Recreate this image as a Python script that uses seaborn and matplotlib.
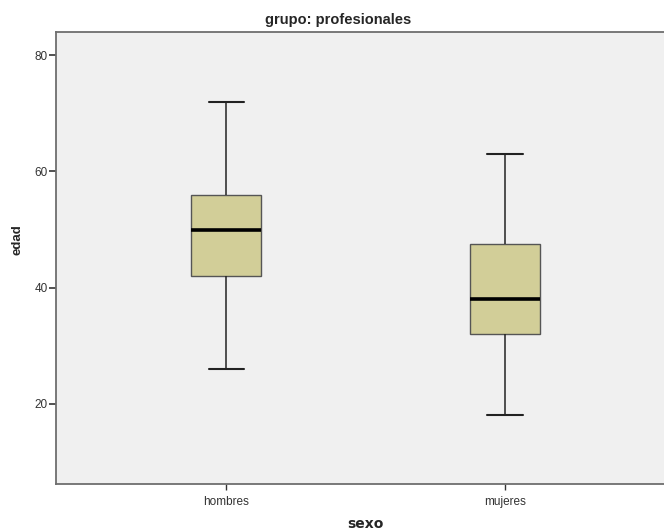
import matplotlib
matplotlib.use("Agg")
import matplotlib.pyplot as plt
import seaborn as sns
import pandas as pd

# Age values per sex (min, Q1, median, Q3, max) for the "profesionales" group
categorias = ["hombres", "mujeres"]
edad_hombres = [26, 42, 50, 56, 72]
edad_mujeres = [18, 32, 38, 47.5, 63]
ticks_y = [20, 40, 60, 80]

df = pd.DataFrame({
    "sexo": [categorias[0]] * len(edad_hombres) + [categorias[1]] * len(edad_mujeres),
    "edad": edad_hombres + edad_mujeres,
})

sns.set_style("white")
plt.rcParams["font.family"] = ["Liberation Sans", "DejaVu Sans"]

fig = plt.figure(figsize=(6.64, 5.31), dpi=100)
ax = fig.add_axes([56 / 664, 1 - 484 / 531, 1 - 56 / 664 + 0.002, (484 - 32) / 531])
ax.set_facecolor("#F0F0F0")

sns.boxplot(
    data=df, x="sexo", y="edad", order=categorias, ax=ax,
    width=0.252, color="#D2CE98", saturation=1, whis=1.5,
    linewidth=1.0, linecolor="#333333",
    boxprops=dict(edgecolor="#555555", linewidth=1.0),
    medianprops=dict(color="black", linewidth=2.6),
    whiskerprops=dict(color="#222222", linewidth=1.1),
    capprops=dict(color="#222222", linewidth=1.5),
)

ax.set_xlim(-0.6115, 1.5755)
ax.set_ylim(6.2, 84)
ax.set_yticks(ticks_y)

for side in ["left", "bottom", "top"]:
    ax.spines[side].set_color("#6E6E6E")
    ax.spines[side].set_linewidth(1.3)
ax.spines["right"].set_visible(False)

ax.tick_params(axis="y", direction="out", length=5, width=1.2, color="#333333",
               labelsize=8.5, labelcolor="#333333", pad=1, left=True)
ax.tick_params(axis="x", direction="out", length=4, width=1.0, color="#333333",
               labelsize=8.5, labelcolor="#333333", pad=4.5, bottom=True)

ax.set_xlabel("sexo", fontsize=10, fontweight="bold", family=["DejaVu Sans"])
ax.xaxis.set_label_coords((365 - 56) / 608, -(524 - 484) / 452)
ax.xaxis.label.set_va("center")
ax.set_ylabel("edad", fontsize=9.5, fontweight="bold", labelpad=8)
ax.yaxis.label.set_y((484 - 240) / 452)

# Title centred over the chart area
fig.text(338 / 664, 1 - 20 / 531, "grupo: profesionales", fontsize=10.5,
         fontweight="bold", ha="center", va="center")

fig.savefig("out.png", dpi=100, facecolor="white")
